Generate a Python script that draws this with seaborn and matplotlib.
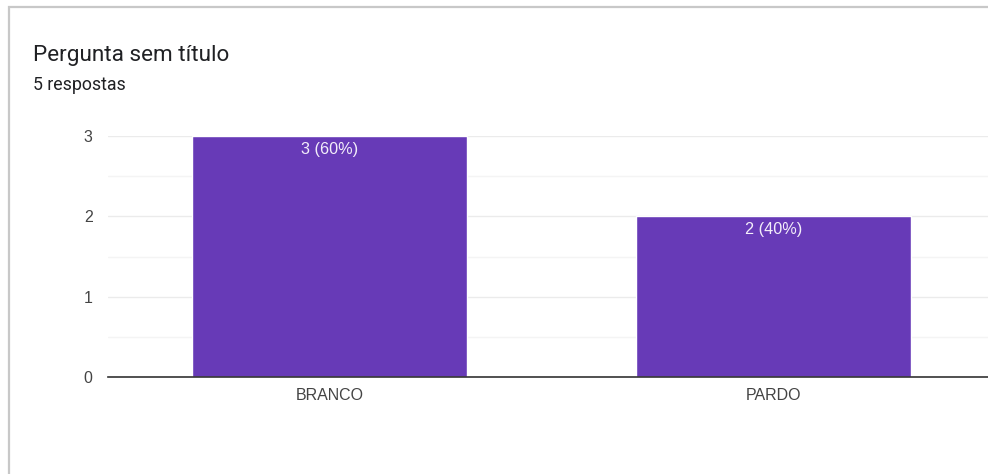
import matplotlib
matplotlib.use("Agg")
import matplotlib.pyplot as plt
from matplotlib.patches import Rectangle
import seaborn as sns
import pandas as pd

# Survey answers
categories = ["BRANCO", "PARDO"]
counts = [3, 2]
total_responses = 5
title_text = "Pergunta sem título"
subtitle_text = f"{total_responses} respostas"

df = pd.DataFrame({"categoria": categories, "respostas": counts})

sns.set_theme(style="white")
plt.rcParams["font.family"] = ["Liberation Sans", "DejaVu Sans"]
header_font = ["Roboto", "DejaVu Sans"]

W, H = 988, 474
fig = plt.figure(figsize=(W / 100, H / 100), dpi=100)
fig.patch.set_facecolor("white")

# Card outline (left and top edges visible, the rest runs off the canvas)
fig.patches.append(Rectangle((9 / W, -0.1), 1.2, 1 - 7 / H + 0.1,
                             transform=fig.transFigure, fill=False,
                             edgecolor="#c8c8c8", linewidth=1.6, zorder=0))

fig.text(33 / W, 1 - 56 / H, title_text, fontsize=16.2, color="#202124",
         va="center", ha="left", family=header_font)
fig.text(33 / W, 1 - 85 / H, subtitle_text, fontsize=12.8, color="#202124",
         va="center", ha="left", family=header_font)

# Plot area: y=0 at 377px, y=3 at 136px; x from 108px to ~995px
left, right = 108, 995
bottom, top = 377, 136
ax = fig.add_axes([left / W, 1 - bottom / H, (right - left) / W, (bottom - top) / H])

sns.barplot(data=df, x="categoria", y="respostas", color="#673ab7",
            saturation=1, width=0.62, ax=ax, zorder=3)

ax.set_xlim(-0.5, 1.5)
ax.set_ylim(0, 3)
ax.set_yticks([0, 1, 2, 3])
ax.set_yticks([0.5, 1.5, 2.5], minor=True)
ax.grid(axis="y", which="major", color="#ebebeb", linewidth=1.0, zorder=0)
ax.grid(axis="y", which="minor", color="#f4f4f4", linewidth=1.0, zorder=0)
ax.set_axisbelow(True)

for s in ["left", "right", "top"]:
    ax.spines[s].set_visible(False)
ax.spines["bottom"].set_color("#333333")
ax.spines["bottom"].set_linewidth(1.2)
ax.spines["bottom"].set_zorder(4)

ax.set_xlabel("")
ax.set_ylabel("")
ax.tick_params(axis="both", which="both", length=0, labelsize=11.5,
               labelcolor="#444444")
ax.tick_params(axis="y", pad=11)
ax.tick_params(axis="x", pad=8)

for i, v in enumerate(counts):
    pct = round(100 * v / total_responses)
    ax.annotate(f"{v} ({pct}%)", xy=(i, v), xytext=(0, -4),
                textcoords="offset points", ha="center", va="top",
                fontsize=11.7, color="#f3eefa", zorder=5)

fig.savefig("out.png", dpi=100, facecolor="white")
